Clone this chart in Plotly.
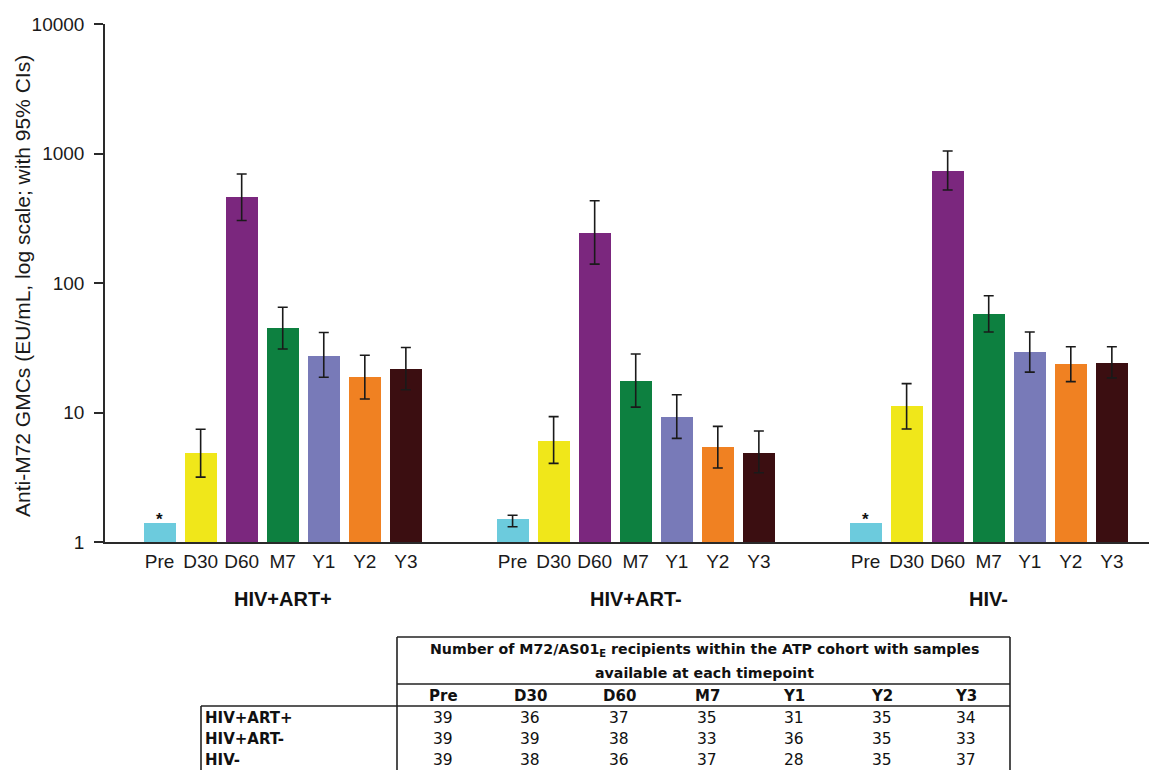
import plotly.graph_objects as go
import math

# ---------------- data ----------------
groups = ["HIV+ART+", "HIV+ART-", "HIV-"]
timepoints = ["Pre", "D30", "D60", "M7", "Y1", "Y2", "Y3"]
bar_colors = ["#6ccbdd", "#f0e71a", "#7b277e", "#0d8040", "#787ab8", "#f08122", "#3b0e11"]

gmc_art_pos = [1.39, 4.84, 461, 44.7, 27.5, 18.8, 21.7]
ci_low_art_pos = [None, 3.17, 304, 30.9, 18.7, 12.7, 15.0]
ci_high_art_pos = [None, 7.43, 694, 65.0, 41.5, 27.7, 31.8]

gmc_art_neg = [1.51, 6.03, 245, 17.5, 9.23, 5.41, 4.90]
ci_low_art_neg = [1.31, 4.05, 140, 11.0, 6.31, 3.73, 3.43]
ci_high_art_neg = [1.61, 9.29, 432, 28.3, 13.7, 7.82, 7.19]

gmc_hiv_neg = [1.40, 11.2, 737, 58.0, 29.2, 23.8, 24.1]
ci_low_hiv_neg = [None, 7.46, 523, 41.8, 20.5, 17.3, 18.5]
ci_high_hiv_neg = [None, 16.7, 1045, 79.8, 41.8, 32.2, 32.2]

n_art_pos = [39, 36, 37, 35, 31, 35, 34]
n_art_neg = [39, 39, 38, 33, 36, 35, 33]
n_hiv_neg = [39, 38, 36, 37, 28, 35, 37]

y_tick_vals = [1, 10, 100, 1000, 10000]
y_tick_text = ["1", "10", "100", "1000", "10000"]
y_title = "Anti-M72 GMCs (EU/mL, log scale; with 95% CIs)"
table_title_1 = "Number of M72/AS01<sub>E</sub> recipients within the ATP cohort with samples"
table_title_2 = "available at each timepoint"

gmc = [gmc_art_pos, gmc_art_neg, gmc_hiv_neg]
ci_low = [ci_low_art_pos, ci_low_art_neg, ci_low_hiv_neg]
ci_high = [ci_high_art_pos, ci_high_art_neg, ci_high_hiv_neg]
counts = [n_art_pos, n_art_neg, n_hiv_neg]

# ---------------- layout geometry ----------------
OFF = 8                      # page body margin
W, H = 1157 - OFF, 770 - OFF
PLOT_LEFT, PLOT_TOP, PLOT_BOTTOM = 105, 24, 542   # in page pixels
L = PLOT_LEFT - OFF
T = PLOT_TOP - OFF
B = H - (PLOT_BOTTOM - OFF)
R = 0
PW = W - L - R
PH = H - T - B
GROUP_STEP = 8.6
XMIN, XMAX = -1.33, 24.3


def px_x(p):
    return (p - PLOT_LEFT) / PW


def px_y(p):
    return (PLOT_BOTTOM - p) / PH


FONT = "Liberation Sans, Arial, sans-serif"
TFONT = "DejaVu Sans, sans-serif"

fig = go.Figure()

tick_vals, tick_text = [], []
annotations = []
for g, name in enumerate(groups):
    xs = [g * GROUP_STEP + i for i in range(len(timepoints))]
    tick_vals += xs
    tick_text += timepoints
    fig.add_trace(go.Bar(
        x=xs, y=gmc[g], width=0.78,
        marker=dict(color=bar_colors, line=dict(width=0)),
        showlegend=False, hoverinfo="skip",
    ))
    ex, ey, eplus, eminus = [], [], [], []
    for i in range(len(timepoints)):
        if ci_low[g][i] is None:
            annotations.append(dict(
                x=xs[i], y=math.log10(gmc[g][i]), xref="x", yref="y",
                text="<b>*</b>", showarrow=False, xanchor="center", yanchor="middle", yshift=4,
                font=dict(size=17, color="#111", family=FONT)))
        else:
            ex.append(xs[i])
            ey.append(gmc[g][i])
            eplus.append(ci_high[g][i] - gmc[g][i])
            eminus.append(gmc[g][i] - ci_low[g][i])
    fig.add_trace(go.Scatter(
        x=ex, y=ey, mode="markers", marker=dict(size=1, opacity=0),
        error_y=dict(type="data", array=eplus, arrayminus=eminus, symmetric=False,
                     color="#1a1a1a", thickness=1.6, width=5),
        showlegend=False, hoverinfo="skip",
    ))
    annotations.append(dict(
        x=g * GROUP_STEP + 3, y=px_y(599), xref="x", yref="paper",
        text="<b>%s</b>" % name, showarrow=False, xanchor="center", yanchor="middle",
        font=dict(size=20, color="#111", family=FONT)))

# y-axis title
annotations.append(dict(
    x=px_x(22), y=px_y(286), xref="paper", yref="paper", text=y_title,
    textangle=-90, showarrow=False, xanchor="center", yanchor="middle",
    font=dict(size=21, color="#1a1a1a", family=FONT)))

# ---------------- table ----------------
shapes = []
line_style = dict(color="#222", width=1.6)
tb_left, tb_right, tb_top = 397, 1010, 637
row_left = 201
for (x0, y0, x1, y1) in [
    (tb_left, tb_top, tb_right, tb_top),
    (tb_left, 684, tb_right, 684),
    (row_left, 706, tb_right, 706),
    (tb_left, tb_top, tb_left, 775),
    (tb_right, tb_top, tb_right, 775),
    (row_left, 706, row_left, 775),
]:
    shapes.append(dict(type="line", xref="paper", yref="paper",
                       x0=px_x(x0), y0=px_y(y0), x1=px_x(x1), y1=px_y(y1),
                       line=line_style))

tcx = (tb_left + tb_right) / 2
annotations.append(dict(x=px_x(tcx + 1), y=px_y(650), xref="paper", yref="paper",
                        text="<b>%s</b>" % table_title_1, showarrow=False,
                        xanchor="center", yanchor="middle",
                        font=dict(size=14.2, color="#111", family=TFONT)))
annotations.append(dict(x=px_x(tcx + 1), y=px_y(673), xref="paper", yref="paper",
                        text="<b>%s</b>" % table_title_2, showarrow=False,
                        xanchor="center", yanchor="middle",
                        font=dict(size=14.2, color="#111", family=TFONT)))
col_x = [443, 530, 619, 707, 794, 882, 966]
for j, tp in enumerate(timepoints):
    annotations.append(dict(x=px_x(col_x[j]), y=px_y(696), xref="paper", yref="paper",
                            text="<b>%s</b>" % tp, showarrow=False,
                            xanchor="center", yanchor="middle",
                            font=dict(size=15, color="#111", family=TFONT)))
row_y = [718, 739, 760]
for r, name in enumerate(groups):
    annotations.append(dict(x=px_x(row_left + 2), y=px_y(row_y[r]), xref="paper", yref="paper",
                            text="<b>%s</b>" % name, showarrow=False,
                            xanchor="left", yanchor="middle",
                            font=dict(size=15, color="#111", family=TFONT)))
    for j in range(len(timepoints)):
        annotations.append(dict(x=px_x(col_x[j]), y=px_y(row_y[r]), xref="paper", yref="paper",
                                text=str(counts[r][j]), showarrow=False,
                                xanchor="center", yanchor="middle",
                                font=dict(size=15.5, color="#111", family=TFONT)))

fig.update_layout(
    width=W, height=H, autosize=False,
    margin=dict(l=L, r=R, t=T, b=B, pad=0),
    paper_bgcolor="white", plot_bgcolor="white",
    barmode="overlay", bargap=0,
    font=dict(family=FONT, color="#1a1a1a"),
    xaxis=dict(range=[XMIN, XMAX], tickmode="array", tickvals=tick_vals, ticktext=tick_text,
               showgrid=False, zeroline=False, showline=True, linecolor="#2a2a2a", linewidth=1.5,
               ticks="", ticklabelstandoff=1, tickfont=dict(size=19, family=FONT, color="#1a1a1a")),
    yaxis=dict(type="log", range=[0, 4], tickmode="array", tickvals=y_tick_vals, ticktext=y_tick_text,
               showgrid=False, zeroline=False, showline=True, linecolor="#2a2a2a", linewidth=1.5,
               ticks="outside", ticklen=9, tickwidth=1.5, tickcolor="#2a2a2a",
               ticklabelstandoff=6, tickfont=dict(size=19, family=FONT, color="#1a1a1a")),
    shapes=shapes, annotations=annotations,
)

fig.write_html("out.html")
